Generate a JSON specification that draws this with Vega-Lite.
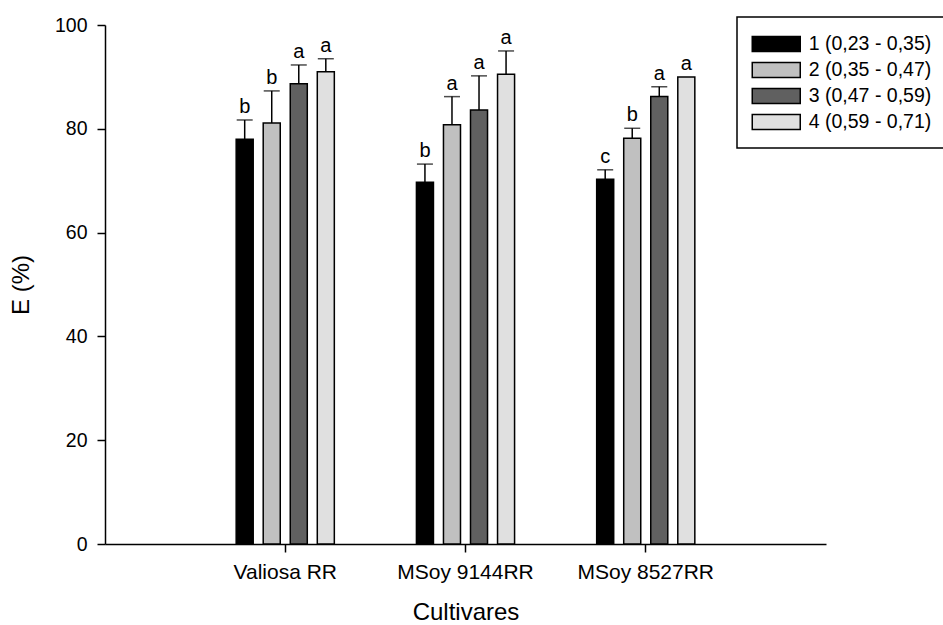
{
  "$schema": "https://vega.github.io/schema/vega-lite/v6.json",
  "autosize": "none",
  "width": 721,
  "height": 519,
  "padding": {"left": 105, "top": 25, "right": 117, "bottom": 81},
  "background": "white",
  "data": {
    "values": [
      {"cultivar": "Valiosa RR", "classe": "1 (0,23 - 0,35)", "E": 78.0, "upper": 81.7, "letra": "b"},
      {"cultivar": "Valiosa RR", "classe": "2 (0,35 - 0,47)", "E": 81.1, "upper": 87.3, "letra": "b"},
      {"cultivar": "Valiosa RR", "classe": "3 (0,47 - 0,59)", "E": 88.7, "upper": 92.3, "letra": "a"},
      {"cultivar": "Valiosa RR", "classe": "4 (0,59 - 0,71)", "E": 91.0, "upper": 93.5, "letra": "a"},
      {"cultivar": "MSoy 9144RR", "classe": "1 (0,23 - 0,35)", "E": 69.7, "upper": 73.2, "letra": "b"},
      {"cultivar": "MSoy 9144RR", "classe": "2 (0,35 - 0,47)", "E": 80.8, "upper": 86.2, "letra": "a"},
      {"cultivar": "MSoy 9144RR", "classe": "3 (0,47 - 0,59)", "E": 83.6, "upper": 90.2, "letra": "a"},
      {"cultivar": "MSoy 9144RR", "classe": "4 (0,59 - 0,71)", "E": 90.5, "upper": 95.0, "letra": "a"},
      {"cultivar": "MSoy 8527RR", "classe": "1 (0,23 - 0,35)", "E": 70.3, "upper": 72.1, "letra": "c"},
      {"cultivar": "MSoy 8527RR", "classe": "2 (0,35 - 0,47)", "E": 78.2, "upper": 80.1, "letra": "b"},
      {"cultivar": "MSoy 8527RR", "classe": "3 (0,47 - 0,59)", "E": 86.2, "upper": 88.1, "letra": "a"},
      {"cultivar": "MSoy 8527RR", "classe": "4 (0,59 - 0,71)", "E": 90.0, "upper": 90.0, "letra": "a"}
    ]
  },
  "encoding": {
    "x": {
      "field": "cultivar",
      "type": "nominal",
      "sort": ["Valiosa RR", "MSoy 9144RR", "MSoy 8527RR"],
      "scale": {"paddingInner": 0, "paddingOuter": 0.5},
      "axis": {"title": "Cultivares", "labelAngle": 0, "labelPadding": 9, "labelFontSize": 21, "titlePadding": 18}
    },
    "xOffset": {
      "field": "classe",
      "type": "nominal",
      "scale": {
        "domain": ["gap_left", "1 (0,23 - 0,35)", "2 (0,35 - 0,47)", "3 (0,47 - 0,59)", "4 (0,59 - 0,71)", "gap_right"],
        "paddingInner": 0.37,
        "paddingOuter": 0.518
      }
    }
  },
  "layer": [
    {
      "mark": {"type": "rule", "color": "black", "strokeWidth": 1.5},
      "transform": [{"filter": "datum.upper > datum.E"}],
      "encoding": {
        "y": {"field": "E", "type": "quantitative"},
        "y2": {"field": "upper"}
      }
    },
    {
      "mark": {"type": "tick", "color": "black", "size": 16, "thickness": 1.5, "orient": "horizontal"},
      "transform": [{"filter": "datum.upper > datum.E"}],
      "encoding": {
        "y": {"field": "upper", "type": "quantitative"}
      }
    },
    {
      "mark": {"type": "bar", "stroke": "black", "strokeWidth": 1.5},
      "encoding": {
        "y": {
          "field": "E",
          "type": "quantitative",
          "scale": {"domain": [0, 100], "nice": false},
          "axis": {"title": "E (%)", "values": [0, 20, 40, 60, 80, 100], "labelPadding": 10, "titlePadding": 21}
        },
        "fill": {
          "field": "classe",
          "type": "nominal",
          "scale": {
            "domain": ["1 (0,23 - 0,35)", "2 (0,35 - 0,47)", "3 (0,47 - 0,59)", "4 (0,59 - 0,71)"],
            "range": ["#000000", "#c0c0c0", "#606060", "#e0e0e0"]
          },
          "legend": {"title": null}
        }
      }
    },
    {
      "mark": {"type": "text", "baseline": "alphabetic", "dy": -7, "fontSize": 20, "font": "Liberation Sans", "color": "black"},
      "encoding": {
        "y": {"field": "upper", "type": "quantitative"},
        "text": {"field": "letra"}
      }
    }
  ],
  "config": {
    "view": {"stroke": null},
    "font": "Liberation Sans",
    "axis": {
      "grid": false,
      "domainColor": "black",
      "domainWidth": 1.5,
      "tickColor": "black",
      "tickWidth": 1.5,
      "tickSize": 8,
      "labelColor": "black",
      "labelFont": "Liberation Sans",
      "labelFontSize": 19.5,
      "titleFont": "Liberation Sans",
      "titleFontSize": 24,
      "titleFontWeight": "normal",
      "titleColor": "black"
    },
    "legend": {
      "orient": "none",
      "legendX": 632,
      "legendY": -8,
      "strokeColor": "black",
      "strokeWidth": 1.5,
      "fillColor": "white",
      "padding": 15,
      "symbolType": "M-2.1818,-0.682H2.1818V0.682H-2.1818Z",
      "symbolSize": 484,
      "symbolOffset": 12.25,
      "symbolStrokeColor": "black",
      "symbolStrokeWidth": 1.5,
      "labelFont": "Liberation Sans",
      "labelFontSize": 19.5,
      "labelColor": "black",
      "labelOffset": 20.5,
      "rowPadding": 3
    }
  }
}
